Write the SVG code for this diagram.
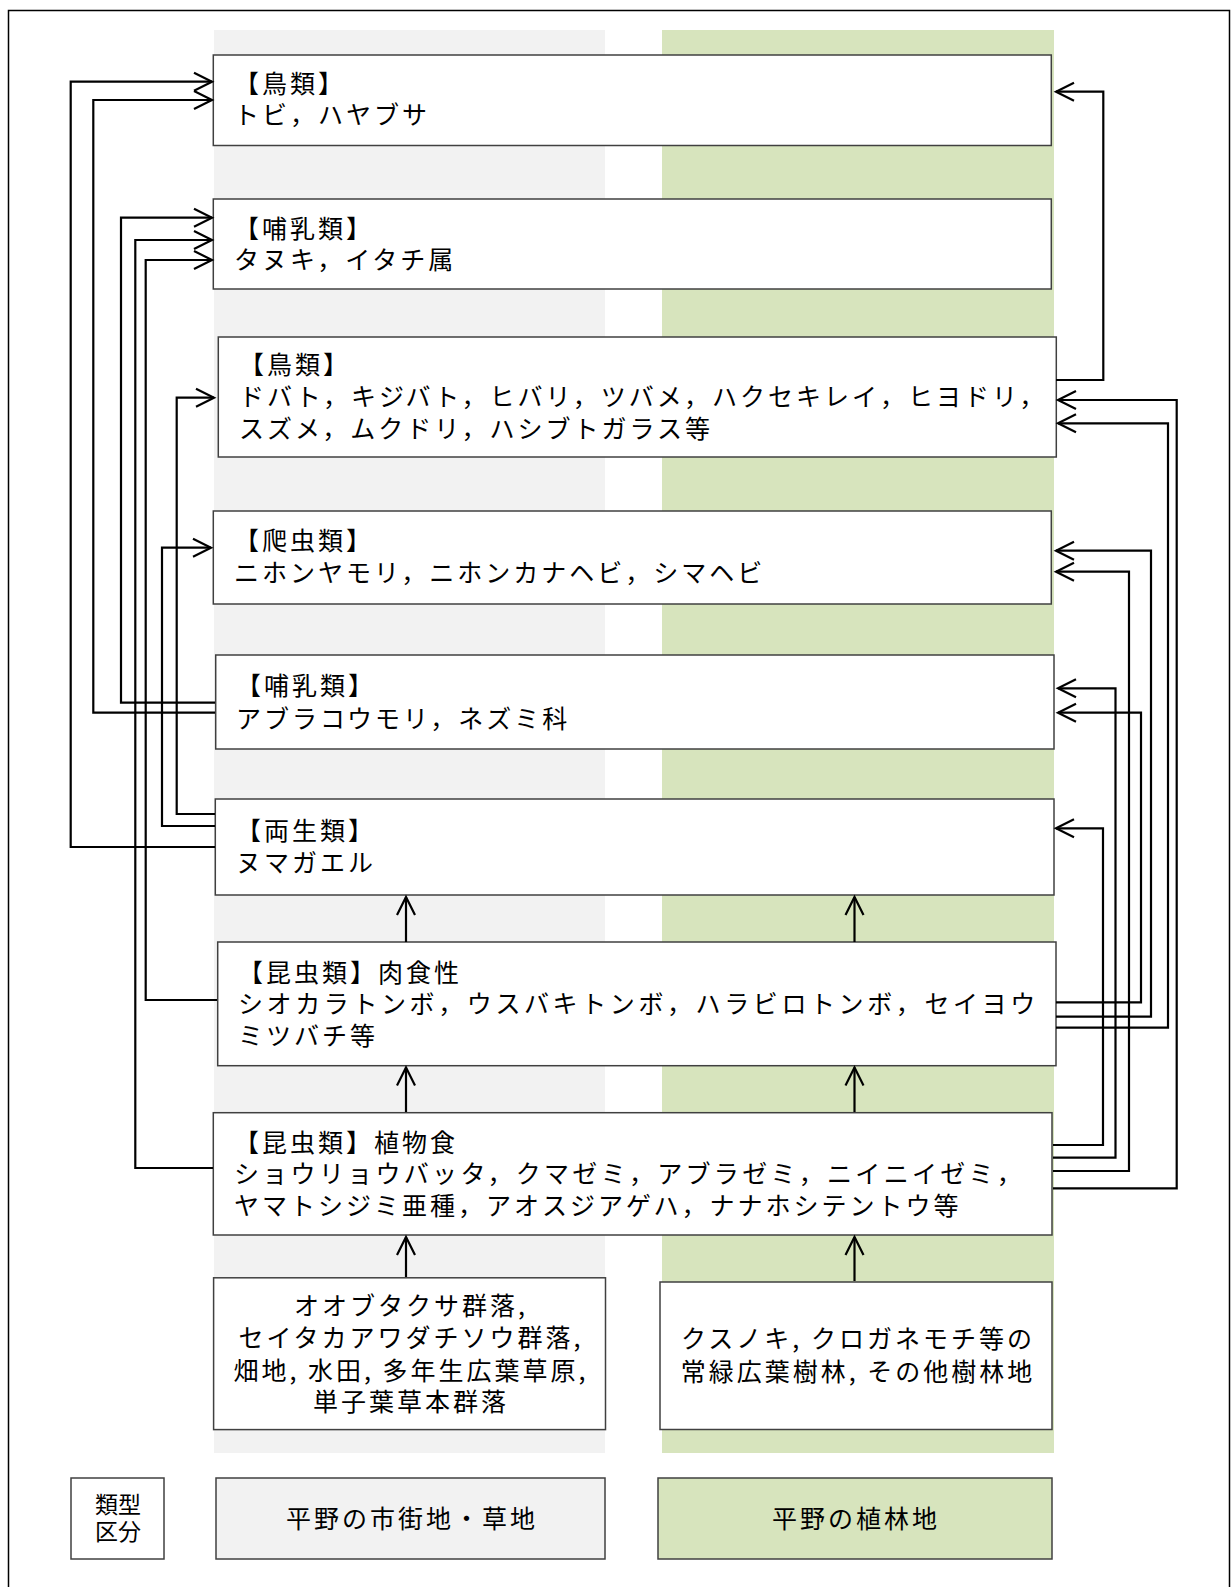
<svg xmlns="http://www.w3.org/2000/svg" width="1231" height="1587" viewBox="0 0 1231 1587">
<style>
.bx{fill:#fff;stroke:#404040;stroke-width:1.5}
.t{font-family:"Noto Sans CJK JP","Noto Sans",sans-serif;font-size:25px;letter-spacing:3px;fill:#000}
.c{text-anchor:middle}
.ln{fill:none;stroke:#000;stroke-width:2.2}
</style>
<defs>
<marker id="ah" markerUnits="userSpaceOnUse" markerWidth="30" markerHeight="30" refX="18" refY="9" orient="auto" overflow="visible">
<polyline points="0,0 18,9 0,18" fill="none" stroke="#000" stroke-width="2.2"/>
</marker>
</defs>
<rect x="0" y="0" width="1231" height="1587" fill="#fff"/>
<rect x="8.5" y="10.5" width="1221" height="1620" fill="none" stroke="#000" stroke-width="1.5"/>
<g id="columns">
<rect x="214" y="30" width="391" height="1423" fill="#f2f2f2"/>
<rect x="662" y="30" width="392" height="1423" fill="#d7e4bd"/>
</g>
<g id="n1"><rect class="bx" x="213.3" y="55" width="838" height="90.5"/>
<text class="t" x="234" y="93">【鳥類】</text><text class="t" x="234" y="124">トビ，ハヤブサ</text></g>
<g id="n2"><rect class="bx" x="213.3" y="199" width="838" height="90"/>
<text class="t" x="234" y="238">【哺乳類】</text><text class="t" x="234" y="269">タヌキ，イタチ属</text></g>
<g id="n3"><rect class="bx" x="218.3" y="337" width="838" height="120"/>
<text class="t" x="239" y="374">【鳥類】</text><text class="t" x="239" y="406">ドバト，キジバト，ヒバリ，ツバメ，ハクセキレイ，ヒヨドリ，</text><text class="t" x="239" y="438">スズメ，ムクドリ，ハシブトガラス等</text></g>
<g id="n4"><rect class="bx" x="213.3" y="511" width="838" height="93"/>
<text class="t" x="234" y="550">【爬虫類】</text><text class="t" x="234" y="582">ニホンヤモリ，ニホンカナヘビ，シマヘビ</text></g>
<g id="n5"><rect class="bx" x="215.7" y="655" width="838.3" height="94"/>
<text class="t" x="236" y="695">【哺乳類】</text><text class="t" x="236" y="728">アブラコウモリ，ネズミ科</text></g>
<g id="n6"><rect class="bx" x="215.3" y="799" width="838.7" height="96"/>
<text class="t" x="236" y="840">【両生類】</text><text class="t" x="236" y="872">ヌマガエル</text></g>
<g id="n7"><rect class="bx" x="217.7" y="942" width="838.3" height="123.7"/>
<text class="t" x="238" y="982">【昆虫類】肉食性</text><text class="t" x="238" y="1013" style="letter-spacing:3.6px">シオカラトンボ，ウスバキトンボ，ハラビロトンボ，セイヨウ</text><text class="t" x="238" y="1045">ミツバチ等</text></g>
<g id="n8"><rect class="bx" x="213.3" y="1112.7" width="838.7" height="122.3"/>
<text class="t" x="234" y="1152">【昆虫類】植物食</text><text class="t" x="234" y="1183" style="letter-spacing:3.3px">ショウリョウバッタ，クマゼミ，アブラゼミ，ニイニイゼミ，</text><text class="t" x="234" y="1215">ヤマトシジミ亜種，アオスジアゲハ，ナナホシテントウ等</text></g>
<g id="n9"><rect class="bx" x="213.6" y="1277.8" width="391.9" height="151.8"/>
<text class="t c" x="411" y="1315">オオブタクサ群落,</text><text class="t c" x="411" y="1347">セイタカアワダチソウ群落,</text><text class="t c" x="411" y="1380">畑地, 水田, 多年生広葉草原,</text><text class="t c" x="411" y="1411">単子葉草本群落</text></g>
<g id="n10"><rect class="bx" x="660" y="1282" width="392" height="147.5"/>
<text class="t c" x="858" y="1348">クスノキ, クロガネモチ等の</text><text class="t c" x="858" y="1381">常緑広葉樹林, その他樹林地</text></g>
<g id="legend">
<rect class="bx" x="71" y="1478" width="93" height="81"/>
<text class="t c" x="118" y="1513" style="letter-spacing:0;font-size:23px">類型</text><text class="t c" x="118" y="1540" style="letter-spacing:0;font-size:23px">区分</text>
<rect class="bx" x="216" y="1478" width="389" height="81" style="fill:#f2f2f2"/>
<text class="t c" x="412" y="1528">平野の市街地・草地</text>
<rect class="bx" x="658" y="1478" width="394" height="81" style="fill:#d7e4bd"/>
<text class="t c" x="856" y="1528">平野の植林地</text>
</g>
<g id="connectors">
<path class="ln" marker-end="url(#ah)" d="M215,847 H70.7 V81.7 H212"/>
<path class="ln" marker-end="url(#ah)" d="M215,712.7 H93.3 V100 H212"/>
<path class="ln" marker-end="url(#ah)" d="M215,702.7 H121 V217.7 H212"/>
<path class="ln" marker-end="url(#ah)" d="M213,1168 H135.3 V240 H212"/>
<path class="ln" marker-end="url(#ah)" d="M217,1000 H145.7 V260 H212"/>
<path class="ln" marker-end="url(#ah)" d="M215,814 H176.7 V397.7 H214"/>
<path class="ln" marker-end="url(#ah)" d="M215,826 H162 V547.7 H211"/>
<path class="ln" marker-end="url(#ah)" d="M1056,380 H1103.3 V91.7 H1056"/>
<path class="ln" marker-end="url(#ah)" d="M1053,1188.3 H1176.7 V400 H1058"/>
<path class="ln" marker-end="url(#ah)" d="M1056,1027.7 H1168 V423.3 H1058"/>
<path class="ln" marker-end="url(#ah)" d="M1056,1016.7 H1151 V550.7 H1056"/>
<path class="ln" marker-end="url(#ah)" d="M1053,1171 H1129 V571.7 H1056"/>
<path class="ln" marker-end="url(#ah)" d="M1053,1157.7 H1115.5 V688.3 H1058"/>
<path class="ln" marker-end="url(#ah)" d="M1056,1002.3 H1141 V712.7 H1058"/>
<path class="ln" marker-end="url(#ah)" d="M1053,1145 H1103 V828.3 H1056"/>
<path class="ln" marker-end="url(#ah)" d="M406,942 V897"/>
<path class="ln" marker-end="url(#ah)" d="M854.5,942 V897"/>
<path class="ln" marker-end="url(#ah)" d="M406,1112 V1067.5"/>
<path class="ln" marker-end="url(#ah)" d="M854.5,1112 V1067.5"/>
<path class="ln" marker-end="url(#ah)" d="M406,1277 V1237"/>
<path class="ln" marker-end="url(#ah)" d="M854.5,1281 V1237"/>
</g>
</svg>
